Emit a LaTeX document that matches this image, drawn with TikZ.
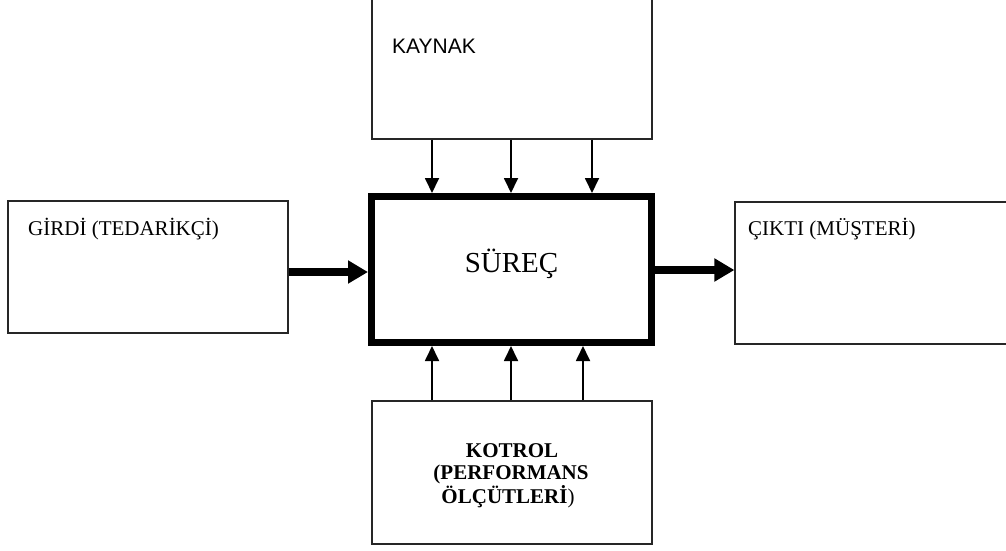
\documentclass[tikz,border=0pt]{standalone}
\usepackage{fontspec}
\setmainfont{Liberation Serif}
\newfontfamily\arialfont{Liberation Sans}
\usetikzlibrary{arrows.meta}
\tikzset{
  thinbox/.style={draw=black!85, line width=1.2pt, inner sep=0pt, minimum width=280pt},
  procbox/.style={draw=black, line width=7pt, inner sep=0pt, minimum width=280pt, minimum height=146pt},
  thinarrow/.style={line width=1.8pt, -{Triangle[length=15pt,width=14pt]}},
  thickarrow/.style={line width=8pt, -{Triangle[length=20pt,width=22pt]}},
  txt/.style={inner sep=0pt, font=\fontsize{21}{24}\selectfont},
}
\begin{document}
\begin{tikzpicture}[x=1pt,y=-1pt]
\useasboundingbox (0,0) rectangle (1006,550);
% boxes
\node[thinbox, minimum height=149pt] (src) at (512,64.5) {};
\node[thinbox, minimum height=132pt] (inp) at (148,267) {};
\node[thinbox, minimum height=142pt] (outp) at (875,273) {};
\node[thinbox, minimum height=143pt] (ctrl) at (512,472.5) {};
\node[procbox] (proc) at (511.5,269.5) {};
% texts
\node[txt, anchor=base west, font=\arialfont\fontsize{21}{24}\selectfont] (tsrc) at (392,53) {KAYNAK};
\node[txt, anchor=base west] (tinp) at (28,235) {GİRDİ (TEDARİKÇİ)};
\node[txt, anchor=base west] (toutp) at (748,235) {ÇIKTI (MÜŞTERİ)};
\node[inner sep=0pt, anchor=base, font=\fontsize{29}{32}\selectfont] (tproc) at (511.5,272) {SÜREÇ};
\node[txt, anchor=base] (tk1) at (512,457) {\textbf{KOTROL}};
\node[txt, anchor=base] (tk2) at (511,479) {\textbf{(PERFORMANS}};
\node[txt, anchor=base] (tk3) at (508,503) {\textbf{ÖLÇÜTLERİ})};
% resource arrows
\foreach \xx in {432,511,592}
  \draw[thinarrow] (src.south -| \xx,0) -- (proc.north -| \xx,0);
% control arrows
\foreach \xx in {432,511,583}
  \draw[thinarrow] (ctrl.north -| \xx,0) -- (proc.south -| \xx,0);
% input/output arrows
\draw[thickarrow] (inp.east |- 0,272) -- (proc.west |- 0,272);
\draw[thickarrow] (proc.east |- 0,270) -- (outp.west |- 0,270);
\end{tikzpicture}
\end{document}
